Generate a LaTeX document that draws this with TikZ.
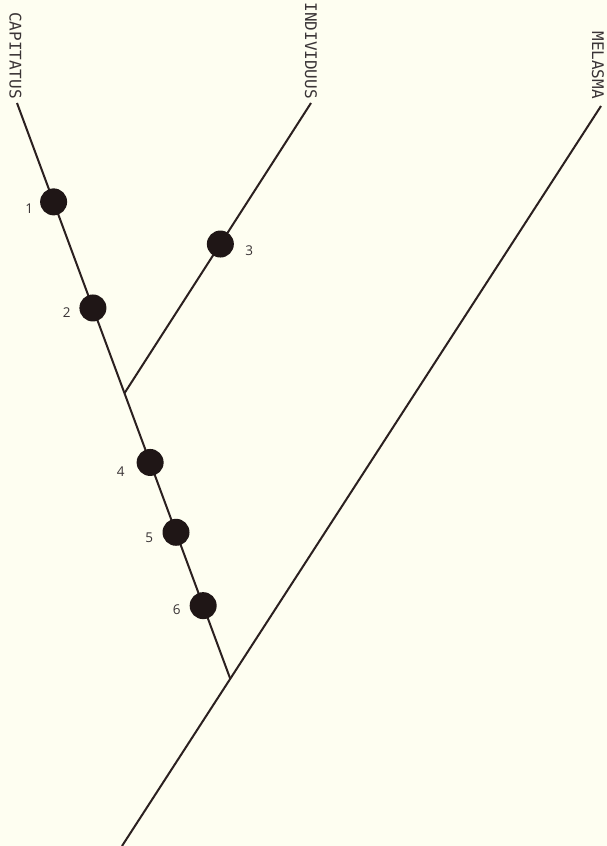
\documentclass[tikz,border=0pt]{standalone}
\usepackage{fontspec}
\usetikzlibrary{calc}
\newfontfamily\labfont{DejaVu Sans Mono}
\newfontfamily\numfont{Open Sans}
\definecolor{bgcol}{HTML}{FEFEF1}
\definecolor{linecol}{HTML}{2B2020}
\definecolor{dotcol}{HTML}{1F1616}
\definecolor{txtcol}{HTML}{3A3436}
\begin{document}
\begin{tikzpicture}[x=1pt,y=-1pt,
  branch/.style={draw=linecol,line width=2pt},
  dotnode/.style={circle,fill=dotcol,minimum size=27pt,inner sep=0pt},
  taxon/.style={rotate=-90,anchor=east,inner sep=0pt,text=txtcol,font=\labfont\fontsize{16}{16}\selectfont},
  numlab/.style={inner sep=0pt,text=txtcol,font=\numfont\fontsize{13.5}{14}\selectfont}]
\fill[bgcol] (0,0) rectangle (607,846);
\useasboundingbox (0,0) rectangle (607,846);
% labels
\node[taxon] (lc) at (15.5,99) {CAPITATUS};
\node[taxon] (li) at (311,99) {INDIVIDUUS};
\node[taxon] (lm) at (598,99) {MELASMA};
% tips and junctions
\coordinate (tc) at (17,103);
\coordinate (ti) at (311,103);
\coordinate (tm) at (601,106);
\coordinate (bm) at (122,846);
\coordinate (j2) at ($(tm)!0.774!(bm)$);
\coordinate (j1) at ($(tc)!0.504!(j2)$);
% branches
\draw[branch] (tm) -- (bm);
\draw[branch] (tc) -- (j2);
\draw[branch] (ti) -- (j1);
% character dots
\node[dotnode] (d1) at ($(tc)!0.1717!(j2)$) {};
\node[dotnode] (d2) at ($(tc)!0.3560!(j2)$) {};
\node[dotnode] (d3) at ($(ti)!0.486!(j1)$) {};
\node[dotnode] (d4) at ($(tc)!0.6243!(j2)$) {};
\node[dotnode] (d5) at ($(tc)!0.7456!(j2)$) {};
\node[dotnode] (d6) at ($(tc)!0.8730!(j2)$) {};
% numbers
\node[numlab] (n1) at (29.3,209) {1};
\node[numlab] (n2) at (66.7,313) {2};
\node[numlab] (n3) at (249.3,250.7) {3};
\node[numlab] (n4) at (120.7,471.7) {4};
\node[numlab] (n5) at (149.3,537.7) {5};
\node[numlab] (n6) at (176.7,610) {6};
\end{tikzpicture}
\end{document}
